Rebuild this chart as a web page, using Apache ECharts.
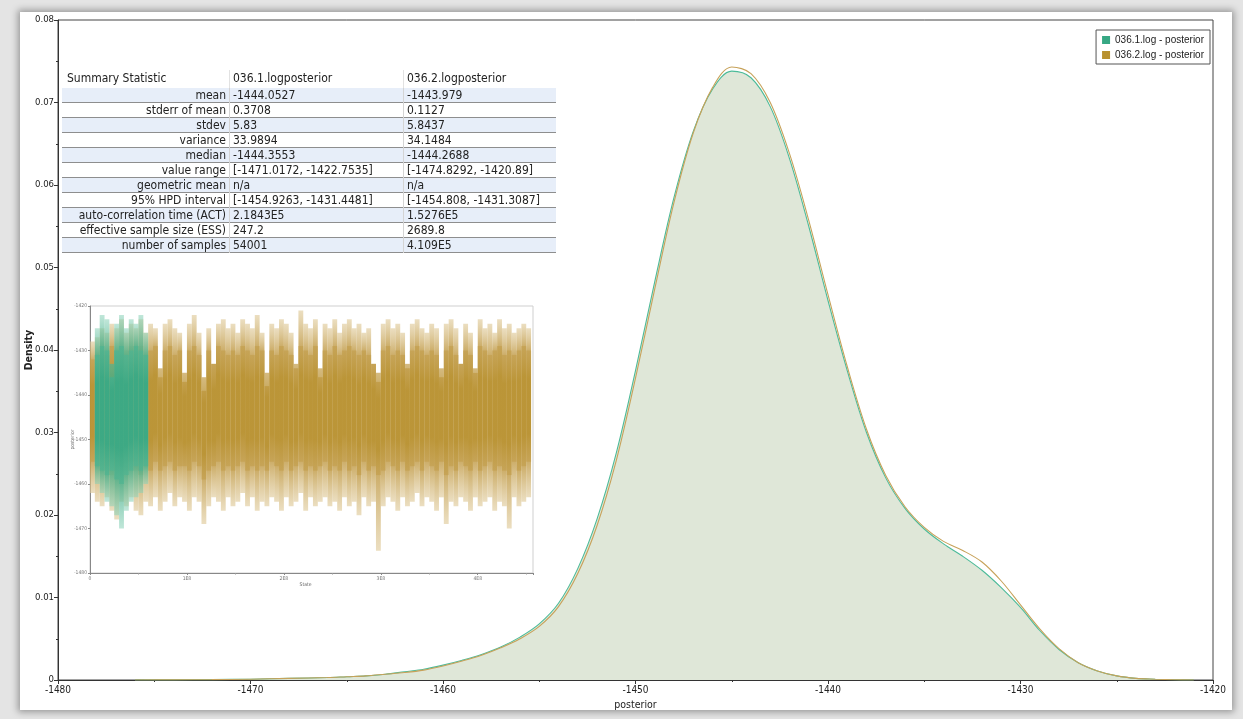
<!DOCTYPE html>
<html>
<head>
<meta charset="utf-8">
<script src="https://cdn.jsdelivr.net/npm/echarts@6/dist/echarts.min.js"></script>
<style>
  html, body { margin: 0; padding: 0; width: 1243px; height: 719px; overflow: hidden; background: #e4e4e4; }
  #panel { position: absolute; left: 20px; top: 12px; width: 1212px; height: 698px; background: #fff; box-shadow: 0 0 7px 2px rgba(0,0,0,0.35); }
  #chart { position: absolute; left: 0; top: 0; width: 1243px; height: 719px; }
</style>
</head>
<body>
<div id="panel"></div>
<div id="chart"></div>
<script>
// Kernel density of the log posterior for two runs
const posteriorX = [-1476,-1474,-1472,-1470,-1468,-1466,-1465,-1464,-1463,-1462,-1461,-1460,-1459,-1458,-1457,-1456,-1455,-1454,-1453,-1452,-1451,-1450,-1449,-1448,-1447,-1446,-1445,-1444,-1443,-1442,-1441,-1440,-1439,-1438,-1437,-1436,-1435,-1434,-1433,-1432,-1431,-1430,-1429,-1428,-1427,-1426,-1425,-1424,-1423,-1422,-1421];
const density1 = [0,0.00002,0.00005,0.0001,0.0002,0.0003,0.0004,0.0005,0.0007,0.0010,0.0013,0.0018,0.0024,0.0031,0.0040,0.0052,0.0068,0.0093,0.0135,0.0195,0.0275,0.0375,0.0483,0.0585,0.0665,0.0716,0.0738,0.0730,0.0695,0.0632,0.0550,0.0460,0.0375,0.0300,0.0245,0.0208,0.0183,0.0165,0.0150,0.0133,0.0112,0.0088,0.0060,0.0037,0.0021,0.0011,0.0005,0.0002,0.0001,0.00003,0];
const density2 = [0,0.00002,0.00004,0.0001,0.0002,0.0003,0.0004,0.0005,0.0007,0.0009,0.0012,0.0017,0.0023,0.0030,0.0039,0.0050,0.0065,0.0089,0.0129,0.0187,0.0266,0.0366,0.0474,0.0579,0.0663,0.0718,0.0743,0.0735,0.0700,0.0638,0.0557,0.0467,0.0380,0.0304,0.0248,0.0210,0.0185,0.0168,0.0157,0.0143,0.0120,0.0091,0.0062,0.0038,0.0021,0.0011,0.0005,0.0002,0.0001,0.00003,0];
const seriesNames = ['036.1.log - posterior', '036.2.log - posterior'];

// Summary statistics table
const tableHeader = ['Summary Statistic', '036.1.logposterior', '036.2.logposterior'];
const statNames = ['mean','stderr of mean','stdev','variance','median','value range','geometric mean','95% HPD interval','auto-correlation time (ACT)','effective sample size (ESS)','number of samples'];
const chain1Stats = ['-1444.0527','0.3708','5.83','33.9894','-1444.3553','[-1471.0172, -1422.7535]','n/a','[-1454.9263, -1431.4481]','2.1843E5','247.2','54001'];
const chain2Stats = ['-1443.979','0.1127','5.8437','34.1484','-1444.2688','[-1474.8292, -1420.89]','n/a','[-1454.808, -1431.3087]','1.5276E5','2689.8','4.109E5'];

// Trace summary per state bin (width 0.05E8): extremes and dense core
const traceBin = 0.05;
const goldHi = [-1428,-1427,-1425,-1426,-1424,-1425,-1423,-1426,-1424,-1425,
  -1423,-1426,-1424,-1425,-1436,-1424,-1423,-1425,-1426,-1437,
  -1424,-1422,-1426,-1439,-1425,-1433,-1424,-1423,-1425,-1424,
  -1426,-1423,-1424,-1425,-1422,-1426,-1438,-1424,-1425,-1423,
  -1424,-1426,-1434,-1421,-1424,-1425,-1423,-1436,-1424,-1425,
  -1423,-1426,-1424,-1423,-1425,-1424,-1426,-1425,-1433,-1437,
  -1424,-1423,-1425,-1424,-1426,-1434,-1424,-1423,-1425,-1426,
  -1424,-1425,-1436,-1424,-1423,-1425,-1433,-1424,-1426,-1435,
  -1423,-1425,-1424,-1426,-1423,-1425,-1424,-1426,-1425,-1424,-1425];
const goldLo = [-1462,-1464,-1465,-1463,-1466,-1468,-1464,-1465,-1463,-1466,
  -1467,-1464,-1465,-1463,-1466,-1464,-1462,-1465,-1463,-1464,
  -1466,-1463,-1464,-1469,-1465,-1463,-1464,-1466,-1463,-1465,
  -1464,-1462,-1465,-1463,-1466,-1464,-1465,-1463,-1464,-1466,
  -1463,-1465,-1464,-1462,-1466,-1463,-1465,-1464,-1463,-1465,
  -1464,-1466,-1463,-1465,-1464,-1467,-1463,-1465,-1464,-1475,
  -1465,-1463,-1464,-1466,-1463,-1465,-1464,-1462,-1465,-1463,
  -1464,-1466,-1463,-1469,-1464,-1465,-1463,-1464,-1466,-1463,
  -1465,-1464,-1463,-1466,-1464,-1465,-1470,-1463,-1465,-1464,-1463];
const goldCoreHi = [-1432,-1431,-1430,-1431,-1429,-1430,-1431,-1430,-1429,-1430,
  -1429,-1431,-1430,-1429,-1434,-1430,-1429,-1431,-1430,-1435,
  -1430,-1429,-1431,-1436,-1430,-1433,-1429,-1430,-1431,-1430,
  -1431,-1429,-1430,-1431,-1429,-1430,-1435,-1430,-1431,-1429,
  -1430,-1431,-1433,-1429,-1430,-1431,-1429,-1434,-1430,-1431,
  -1429,-1431,-1430,-1429,-1430,-1431,-1430,-1431,-1433,-1435,
  -1430,-1429,-1431,-1430,-1431,-1433,-1430,-1429,-1430,-1431,
  -1430,-1431,-1434,-1430,-1429,-1431,-1433,-1430,-1431,-1434,
  -1429,-1430,-1431,-1430,-1429,-1431,-1430,-1431,-1430,-1429,-1430];
const goldCoreLo = [-1455,-1456,-1457,-1456,-1458,-1457,-1456,-1457,-1455,-1457,
  -1458,-1456,-1457,-1455,-1457,-1456,-1455,-1457,-1456,-1456,
  -1457,-1455,-1456,-1459,-1457,-1456,-1455,-1457,-1456,-1457,
  -1456,-1455,-1457,-1456,-1457,-1456,-1457,-1455,-1456,-1457,
  -1455,-1457,-1456,-1455,-1457,-1456,-1457,-1456,-1455,-1457,
  -1456,-1457,-1455,-1457,-1456,-1458,-1455,-1457,-1456,-1458,
  -1457,-1455,-1456,-1457,-1455,-1457,-1456,-1455,-1457,-1455,
  -1456,-1457,-1455,-1458,-1456,-1457,-1455,-1456,-1457,-1455,
  -1457,-1456,-1455,-1457,-1456,-1457,-1458,-1455,-1457,-1456,-1455];
const tealStart = 1;
const tealHi = [-1425,-1422,-1423,-1436,-1424,-1422,-1425,-1423,-1424,-1422,-1426];
const tealLo = [-1460,-1462,-1464,-1465,-1467,-1470,-1466,-1464,-1463,-1462,-1460];
const tealCoreHi = [-1431,-1429,-1430,-1433,-1430,-1429,-1431,-1430,-1429,-1430,-1431];
const tealCoreLo = [-1456,-1457,-1458,-1457,-1459,-1460,-1458,-1457,-1456,-1457,-1456];

const C1 = '#37a884', C1pale = 'rgba(140,210,185,0.55)', C1mid = 'rgba(80,180,145,0.85)';
const C2 = '#b8912f', C2pale = 'rgba(222,200,150,0.6)', C2mid = 'rgba(196,160,80,0.85)';

function traceRows(start, hi, lo, cHi, cLo) {
  return hi.map((h, k) => [(start + k) * traceBin, h, lo[k], cHi[k], cLo[k]]);
}

// Each bin: a soft extent bar fading to its ends, and a denser core bar
function traceRenderer(dark, mid, pale) {
  return function (params, api) {
    const x = api.value(0);
    const pHi = api.coord([x, api.value(1)]);
    const pLo = api.coord([x + traceBin, api.value(2)]);
    const cHi = api.coord([x, api.value(3)]);
    const cLo = api.coord([x + traceBin, api.value(4)]);
    const h = pLo[1] - pHi[1];
    const a = Math.max(0, Math.min(1, (cHi[1] - pHi[1]) / h));
    const b = Math.max(0, Math.min(1, (cLo[1] - pHi[1]) / h));
    const extentFill = new echarts.graphic.LinearGradient(0, 0, 0, 1, [
      { offset: 0, color: pale }, { offset: a, color: mid }, { offset: b, color: mid }, { offset: 1, color: pale }
    ]);
    const ch = cLo[1] - cHi[1];
    const coreFill = new echarts.graphic.LinearGradient(0, 0, 0, 1, [
      { offset: 0, color: mid }, { offset: 0.25, color: dark }, { offset: 0.75, color: dark }, { offset: 1, color: mid }
    ]);
    return {
      type: 'group',
      children: [
        { type: 'rect', shape: { x: pHi[0], y: pHi[1], width: pLo[0] - pHi[0], height: h }, style: { fill: extentFill } },
        { type: 'rect', shape: { x: cHi[0], y: cHi[1], width: cLo[0] - cHi[0], height: ch }, style: { fill: coreFill, opacity: 0.85 } }
      ]
    };
  };
}

// Table drawn with graphic elements
const tblLeft = 62, tblTop = 70, headH = 18, rowH = 15, col2 = 229, col3 = 403, tblRight = 556;
const tableFont = '12px "DejaVu Sans Condensed", "DejaVu Sans", sans-serif';
const tableEls = [];
tableEls.push({ type: 'rect', shape: { x: tblLeft, y: tblTop, width: tblRight - tblLeft, height: headH }, style: { fill: '#fff' } });
tableHeader.forEach((t, c) => {
  const x = [tblLeft + 5, col2 + 4, col3 + 4][c];
  tableEls.push({ type: 'text', x: x, y: tblTop + headH / 2, style: { text: t, font: tableFont, fill: '#222', textVerticalAlign: 'middle' } });
});
[col2, col3].forEach(cx => tableEls.push({ type: 'line', shape: { x1: cx + 0.5, y1: tblTop, x2: cx + 0.5, y2: tblTop + headH }, style: { stroke: '#e2e2e2', lineWidth: 1 } }));
statNames.forEach((name, r) => {
  const y = tblTop + headH + r * rowH;
  tableEls.push({ type: 'rect', shape: { x: tblLeft, y: y, width: tblRight - tblLeft, height: rowH }, style: { fill: r % 2 === 0 ? '#e7eef9' : '#ffffff' } });
  tableEls.push({ type: 'line', shape: { x1: tblLeft, y1: y + rowH - 0.5, x2: tblRight, y2: y + rowH - 0.5 }, style: { stroke: '#8e8e8e', lineWidth: 1 } });
  [col2, col3].forEach(cx => tableEls.push({ type: 'line', shape: { x1: cx + 0.5, y1: y, x2: cx + 0.5, y2: y + rowH }, style: { stroke: '#d4d4d4', lineWidth: 1 } }));
  tableEls.push({ type: 'text', x: col2 - 3, y: y + rowH / 2, style: { text: name, font: tableFont, fill: '#222', textAlign: 'right', textVerticalAlign: 'middle' } });
  tableEls.push({ type: 'text', x: col2 + 4, y: y + rowH / 2, style: { text: chain1Stats[r], font: tableFont, fill: '#222', textVerticalAlign: 'middle' } });
  tableEls.push({ type: 'text', x: col3 + 4, y: y + rowH / 2, style: { text: chain2Stats[r], font: tableFont, fill: '#222', textVerticalAlign: 'middle' } });
});

const axisFont = '"DejaVu Sans Condensed", "DejaVu Sans", sans-serif';
const plain = v => String(Math.round(v * 1000) / 1000);
const chart = echarts.init(document.getElementById('chart'), null, { renderer: 'canvas' });
chart.setOption({
  animation: false,
  backgroundColor: 'transparent',
  grid: [
    { left: 58, top: 20, right: 30, bottom: 39, show: true, borderColor: '#444', borderWidth: 1, backgroundColor: 'transparent' },
    { left: 90, top: 306, width: 443, height: 267, show: true, borderColor: '#cfcfcf', borderWidth: 1, backgroundColor: '#fff' }
  ],
  legend: {
    data: seriesNames,
    orient: 'vertical', right: 33, top: 30,
    backgroundColor: '#fff', borderColor: '#555', borderWidth: 1, padding: [5, 6, 4, 6],
    icon: 'rect', itemWidth: 8, itemHeight: 8, itemGap: 5,
    textStyle: { fontFamily: 'Liberation Sans, Arial, sans-serif', fontSize: 10, color: '#222' }
  },
  xAxis: [
    {
      gridIndex: 0, type: 'value', min: -1480, max: -1420, interval: 10,
      name: 'posterior', nameLocation: 'middle', nameGap: 20,
      nameTextStyle: { fontFamily: axisFont, fontSize: 10.5, color: '#222' },
      axisLine: { onZero: false, lineStyle: { color: '#333' } },
      axisTick: { length: 4, lineStyle: { color: '#333' } },
      minorTick: { show: true, splitNumber: 2, length: 2, lineStyle: { color: '#333' } },
      axisLabel: { fontFamily: axisFont, fontSize: 10, color: '#222', margin: 5, formatter: plain },
      splitLine: { show: false }
    },
    {
      gridIndex: 1, type: 'value', min: 0, max: 4.57, interval: 1,
      name: 'State', nameLocation: 'middle', nameGap: 9, nameMoveOverlap: false,
      nameTextStyle: { fontFamily: axisFont, fontSize: 5, color: '#666', padding: [0, 12, 0, 0] },
      axisLine: { onZero: false, lineStyle: { color: '#888' } },
      axisTick: { length: 2, lineStyle: { color: '#888' } },
      minorTick: { show: true, splitNumber: 2, length: 1.5, lineStyle: { color: '#999' } },
      axisLabel: { fontFamily: axisFont, fontSize: 5, color: '#777', margin: 3, showMaxLabel: false, formatter: v => v === 0 ? '0' : v + 'E8' },
      splitLine: { show: false }
    }
  ],
  yAxis: [
    {
      gridIndex: 0, type: 'value', min: 0, max: 0.08, interval: 0.01,
      name: 'Density', nameLocation: 'middle', nameGap: 23, nameRotate: 90, nameMoveOverlap: false,
      nameTextStyle: { fontFamily: axisFont, fontSize: 10.5, fontWeight: 'bold', color: '#222' },
      axisLine: { show: true, lineStyle: { color: '#333' } },
      axisTick: { show: true, length: 4, lineStyle: { color: '#333' } },
      minorTick: { show: true, splitNumber: 2, length: 2, lineStyle: { color: '#333' } },
      axisLabel: { fontFamily: axisFont, fontSize: 9.5, color: '#222', margin: 4, formatter: plain },
      splitLine: { show: false }
    },
    {
      gridIndex: 1, type: 'value', min: -1480, max: -1420, interval: 10,
      name: 'posterior', nameLocation: 'middle', nameGap: 15, nameRotate: 90, nameMoveOverlap: false,
      nameTextStyle: { fontFamily: axisFont, fontSize: 5, color: '#666' },
      axisLine: { show: true, lineStyle: { color: '#888' } },
      axisTick: { show: true, length: 2, lineStyle: { color: '#888' } },
      axisLabel: { fontFamily: axisFont, fontSize: 5, color: '#777', margin: 3, formatter: plain },
      splitLine: { show: false }
    }
  ],
  graphic: [{ type: 'group', children: tableEls, z: 50 }],
  series: [
    {
      name: seriesNames[0], type: 'line', xAxisIndex: 0, yAxisIndex: 0,
      data: posteriorX.map((x, i) => [x, density1[i]]),
      smooth: 0.35, showSymbol: false, symbol: 'none',
      itemStyle: { color: C1 },
      lineStyle: { color: '#4dbb99', width: 1.1 },
      areaStyle: { color: '#dfe7d8', opacity: 1 },
      z: 2
    },
    {
      name: seriesNames[1], type: 'line', xAxisIndex: 0, yAxisIndex: 0,
      data: posteriorX.map((x, i) => [x, density2[i]]),
      smooth: 0.35, showSymbol: false, symbol: 'none',
      itemStyle: { color: C2 },
      lineStyle: { color: '#c7a25a', width: 1.1 },
      z: 3
    },
    {
      type: 'custom', xAxisIndex: 1, yAxisIndex: 1, clip: true,
      renderItem: traceRenderer(C2, C2mid, C2pale),
      data: traceRows(0, goldHi, goldLo, goldCoreHi, goldCoreLo),
      z: 4
    },
    {
      type: 'custom', xAxisIndex: 1, yAxisIndex: 1, clip: true,
      renderItem: traceRenderer(C1, C1mid, C1pale),
      data: traceRows(tealStart, tealHi, tealLo, tealCoreHi, tealCoreLo),
      z: 5
    }
  ]
});
</script>
</body>
</html>
